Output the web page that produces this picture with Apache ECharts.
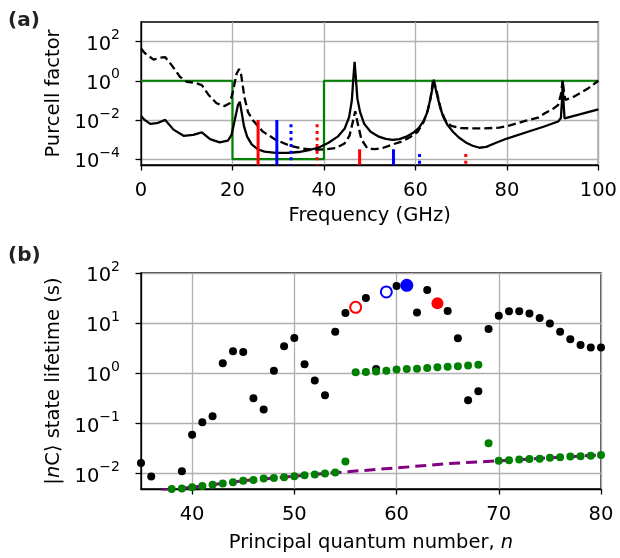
<!DOCTYPE html>
<html><head><meta charset="utf-8">
<script src="https://cdn.jsdelivr.net/npm/echarts@6/dist/echarts.min.js"></script>
<style>html,body{margin:0;padding:0;background:#fff}#c{width:620px;height:558px}</style>
</head><body><div id="c"></div>
<script>
// ---------- Panel (a): Purcell factor vs frequency ----------
const aYTicks = [1e-4, 1e-2, 1, 1e2];
const aXTicks = [0, 20, 40, 60, 80, 100];

const greenFreq = [0, 20, 20, 40, 40, 100];
const greenPurcell = [1, 1, 1e-4, 1e-4, 1, 1];

const solidFreq = [0,0.8,2.0,3.5,5.3,7.1,9.3,11.4,13.3,15.1,17.2,19.0,19.8,20.5,21.2,21.6,22.0,22.5,23.2,24.2,25.5,27,29.5,32,34.5,37,39,41,43,44.5,45.5,46.1,46.45,46.7,46.95,47.3,47.9,48.8,50.2,52,53.5,55,56.5,58,59.5,60.7,61.8,62.6,63.2,63.7,64.0,64.35,64.8,65.4,66.1,67.0,68.2,69.5,71,72.5,74,75.5,77.5,80,84.6,88,91.2,91.8,92.05,92.2,92.35,92.6,95.5,100];
const solidPurcell = [1.6e-2,1.0e-2,6.3e-3,6.8e-3,1.0e-2,3.2e-3,1.55e-3,1.74e-3,2.3e-3,1.05e-3,7.1e-4,8.9e-4,1.74e-3,1.0e-2,5.8e-2,8.5e-2,2.5e-2,5.0e-3,1.4e-3,5.6e-4,3.2e-4,2.4e-4,2.1e-4,2.1e-4,2.3e-4,3.0e-4,4.0e-4,6.8e-4,1.4e-3,3.5e-3,1.4e-2,0.1,1.6,9.3,1.6,0.126,2.5e-2,6.3e-3,2.5e-3,1.4e-3,1.07e-3,9.5e-4,1.05e-3,1.4e-3,2.2e-3,3.8e-3,8.9e-3,2.5e-2,0.1,0.4,0.89,0.45,0.16,4.5e-2,1.4e-2,5.6e-3,2.5e-3,1.26e-3,7.1e-4,4.8e-4,3.8e-4,4.2e-4,6.6e-4,1.12e-3,2.5e-3,4.5e-3,8.3e-3,1.26e-2,0.1,0.89,0.1,1.2e-2,1.8e-2,3.5e-2];

const dashedFreq = [0,0.9,2.75,4.2,5.3,6.7,8.5,10,11.8,13.3,14.7,16.5,18.3,19.4,20.1,20.9,21.45,21.9,22.6,23.4,24.4,26.6,29.5,32.4,35.3,38.2,40.5,42.5,44.5,45.6,46.3,46.85,47.4,48.2,49.5,51.2,53,55,57,59,60.5,61.8,62.7,63.3,63.9,64.4,65.0,65.6,66.5,67.8,70,74.5,78.3,80.3,84,86.8,88.3,90.3,91.2,91.8,92.2,92.5,92.8,94.8,97.7,100];
const dashedPurcell = [44,25,12,15,16,6.3,1.6,0.89,0.79,0.6,0.2,7.1e-2,5.1e-2,7.1e-2,0.28,2.3,4.0,2.0,0.15,2.5e-2,1.0e-2,2.6e-3,9.5e-4,5.0e-4,3.4e-4,3.0e-4,3.2e-4,3.6e-4,6.3e-4,1.6e-3,7.9e-3,2.8e-2,6.3e-3,1.0e-3,3.5e-4,3.2e-4,3.8e-4,5.6e-4,7.9e-4,1.4e-3,2.5e-3,7.9e-3,3.2e-2,0.126,1.3,0.49,0.126,3.2e-2,1.0e-2,5.0e-3,3.8e-3,3.7e-3,4.0e-3,5.0e-3,8.9e-3,1.3e-2,2.2e-2,4.0e-2,5.8e-2,0.2,1.07,0.25,0.105,0.16,0.4,1.0];

// transition markers (frequency, top value); they run down to the axis floor
const markerFloor = 5e-5;
const redSolidFreq = [25.6, 47.8],  redSolidTop = [1e-2, 3.2e-4];
const blueSolidFreq = [29.7, 55.2], blueSolidTop = [1e-2, 3.2e-4];
const blueDotFreq = [32.8, 60.9],   blueDotTop = [6e-3, 1.8e-4];
const redDotFreq = [38.5, 71.0],    redDotTop = [6e-3, 1.8e-4];

// ---------- Panel (b): state lifetime vs n ----------
const bXTicks = [40, 50, 60, 70, 80];
const bYTicks = [1e-2, 1e-1, 1, 10, 100];

const blackN = [35,36,39,40,41,42,43,44,45,46,47,48,49,50,51,52,53,54,55,57,58,60,62,63,65,66,67,68,69,70,71,72,73,74,75,76,77,78,79,80];
const blackLife = [0.0164,0.0088,0.0112,0.060,0.106,0.14,1.58,2.75,2.67,0.32,0.19,1.13,3.46,5.07,1.52,0.72,0.366,6.78,16.0,31.8,1.22,55.1,16.4,45.8,17.5,5.0,0.29,0.44,7.66,14.1,17.2,17.2,15.5,12.7,9.8,6.78,4.77,3.68,3.26,3.26];

const greenN = [38,39,40,41,42,43,44,45,46,47,48,49,50,51,52,53,54,55,56,57,58,59,60,61,62,63,64,65,66,67,68,69,70,71,72,73,74,75,76,77,78,79,80];
const greenLife = [0.00497,0.00506,0.00537,0.00571,0.00599,0.00636,0.00676,0.00719,0.00752,0.0080,0.00824,0.0085,0.0089,0.0093,0.0096,0.0101,0.0105,0.0175,1.05,1.06,1.09,1.13,1.19,1.22,1.24,1.28,1.32,1.36,1.39,1.44,1.49,0.0404,0.018,0.0186,0.0191,0.0196,0.0199,0.0207,0.0213,0.0219,0.0222,0.0228,0.0237];

const purpleN = [37, 40, 45, 50, 54, 60, 65, 70, 75, 80];
const purpleLife = [0.0046, 0.00537, 0.0072, 0.0089, 0.0105, 0.0130, 0.0159, 0.018, 0.0207, 0.0237];

const openRedN = [56], openRedLife = [20.7];
const openBlueN = [59], openBlueLife = [41.9];
const fillBlueN = [61], fillBlueLife = [56.8];
const fillRedN = [64], fillRedLife = [24.9];

// ---------- build ----------
const F = 'DejaVu Sans';
const L = Math.log10;
const pts = (xs, ys) => xs.map((x, i) => [x, L(ys[i])]);
const supFmt = v => { const e = Math.round(v); return '{b|10}{s|' + (e < 0 ? '\u2212' + (-e) : '' + e) + '}'; };
const supRich = {
  b: {fontSize: 19.5, fontFamily: F, color: '#000', lineHeight: 26, verticalAlign: 'bottom'},
  s: {fontSize: 14, fontFamily: F, color: '#000', lineHeight: 10, verticalAlign: 'top'}
};
const gridLine = {show: true, lineStyle: {color: '#b0b0b0', width: 1.3}};
const tickStyle = (vals) => ({show: true, length: 5.5, inside: false, customValues: vals, lineStyle: {color: '#000', width: 1.3}});
const axLine = {show: true, onZero: false, lineStyle: {color: '#000', width: 1.3}};

function xAx(grid, min, max, ticks, name, gap) {
  return {type: 'value', gridIndex: grid, min: min, max: max,
    axisLine: axLine, axisTick: tickStyle(ticks), splitLine: gridLine,
    axisLabel: {customValues: ticks, fontSize: 19.5, fontFamily: F, color: '#000', margin: 16},
    name: name, nameLocation: 'middle', nameGap: gap,
    nameTextStyle: {fontSize: 19.5, fontFamily: F, color: '#000',
      rich: {t: {fontSize: 19.5, fontFamily: F, color: '#000'}, i: {fontSize: 19.5, fontFamily: F, fontStyle: 'italic', color: '#000'}}}};
}
function yAx(grid, min, max, ticks, name) {
  const lt = ticks.map(L);
  return {type: 'value', gridIndex: grid, min: min, max: max,
    axisLine: axLine, axisTick: tickStyle(lt), splitLine: gridLine,
    axisLabel: {customValues: lt, formatter: supFmt, rich: supRich, margin: 21},
    name: name, nameLocation: 'middle', nameGap: 76,
    nameTextStyle: {fontSize: 19.5, fontFamily: F, color: '#000',
      rich: {t: {fontSize: 19.5, fontFamily: F, color: '#000'}, i: {fontSize: 19.5, fontFamily: F, fontStyle: 'italic', color: '#000'}}}};
}

const series = [];
const line = (xs, ys, color, width, type, z) => ({type: 'line', xAxisIndex: 0, yAxisIndex: 0, data: pts(xs, ys),
  symbol: 'none', clip: true, z: z, lineStyle: {color: color, width: width, type: type, cap: 'butt'}});
series.push(line(greenFreq, greenPurcell, '#008000', 2.2, 'solid', 2));
series.push(line(solidFreq, solidPurcell, '#000', 2.3, 'solid', 3));
series.push(line(dashedFreq, dashedPurcell, '#000', 2.3, [8, 4], 4));
function markers(fs, tops, color, type) {
  fs.forEach((f, i) => series.push(line([f, f], [tops[i], markerFloor], color, 3, type, 5)));
}
markers(redSolidFreq, redSolidTop, '#ff0000', 'solid');
markers(blueSolidFreq, blueSolidTop, '#0000ff', 'solid');
markers(blueDotFreq, blueDotTop, '#0000ff', [3, 3.6]);
markers(redDotFreq, redDotTop, '#ff0000', [3, 3.6]);

const sc = (xs, ys, size, item, z) => ({type: 'scatter', xAxisIndex: 1, yAxisIndex: 1, data: pts(xs, ys),
  symbol: 'circle', symbolSize: size, itemStyle: Object.assign({opacity: 1}, item), z: z, clip: true});
series.push({type: 'line', xAxisIndex: 1, yAxisIndex: 1, data: pts(purpleN, purpleLife), symbol: 'none', clip: true, z: 2,
  lineStyle: {color: '#800080', width: 3, type: [11, 6], cap: 'butt'}});
series.push(sc(blackN, blackLife, 8, {color: '#000'}, 3));
series.push(sc(greenN, greenLife, 8, {color: '#008000'}, 4));
series.push(sc(openRedN, openRedLife, 11, {color: 'rgba(0,0,0,0)', borderColor: '#ff0000', borderWidth: 2}, 5));
series.push(sc(openBlueN, openBlueLife, 11, {color: 'rgba(0,0,0,0)', borderColor: '#0000ff', borderWidth: 2}, 5));
series.push(sc(fillBlueN, fillBlueLife, 13, {color: '#0000ff'}, 5));
series.push(sc(fillRedN, fillRedLife, 12, {color: '#ff0000'}, 5));

const chart = echarts.init(document.getElementById('c'), null, {renderer: 'canvas'});
chart.setOption({
  animation: false,
  backgroundColor: '#fff',
  grid: [
    {left: 141, top: 22, width: 460, height: 143, show: true, borderColor: '#000', borderWidth: 1.3, backgroundColor: 'rgba(0,0,0,0)'},
    {left: 141, top: 273, width: 460, height: 216, show: true, borderColor: '#000', borderWidth: 1.3, backgroundColor: 'rgba(0,0,0,0)'}
  ],
  xAxis: [
    xAx(0, 0, 100, aXTicks, 'Frequency (GHz)', 41),
    xAx(1, 35, 80, bXTicks, '{t|Principal quantum number, }{i|n}', 44)
  ],
  yAxis: [
    yAx(0, L(5e-5), L(1e3), aYTicks, 'Purcell factor'),
    yAx(1, L(4.95e-3), L(100), bYTicks, '{t||}{i|n}{t|C\u27E9 state lifetime (s)}')
  ],
  graphic: [
    {type: 'text', left: 8, top: 11, style: {text: '(a)', fontSize: 20, fontWeight: 'bold', fontFamily: F, fill: '#222'}},
    {type: 'text', left: 8, top: 246, style: {text: '(b)', fontSize: 20, fontWeight: 'bold', fontFamily: F, fill: '#222'}}
  ],
  series: series
});
</script>
</body></html>
